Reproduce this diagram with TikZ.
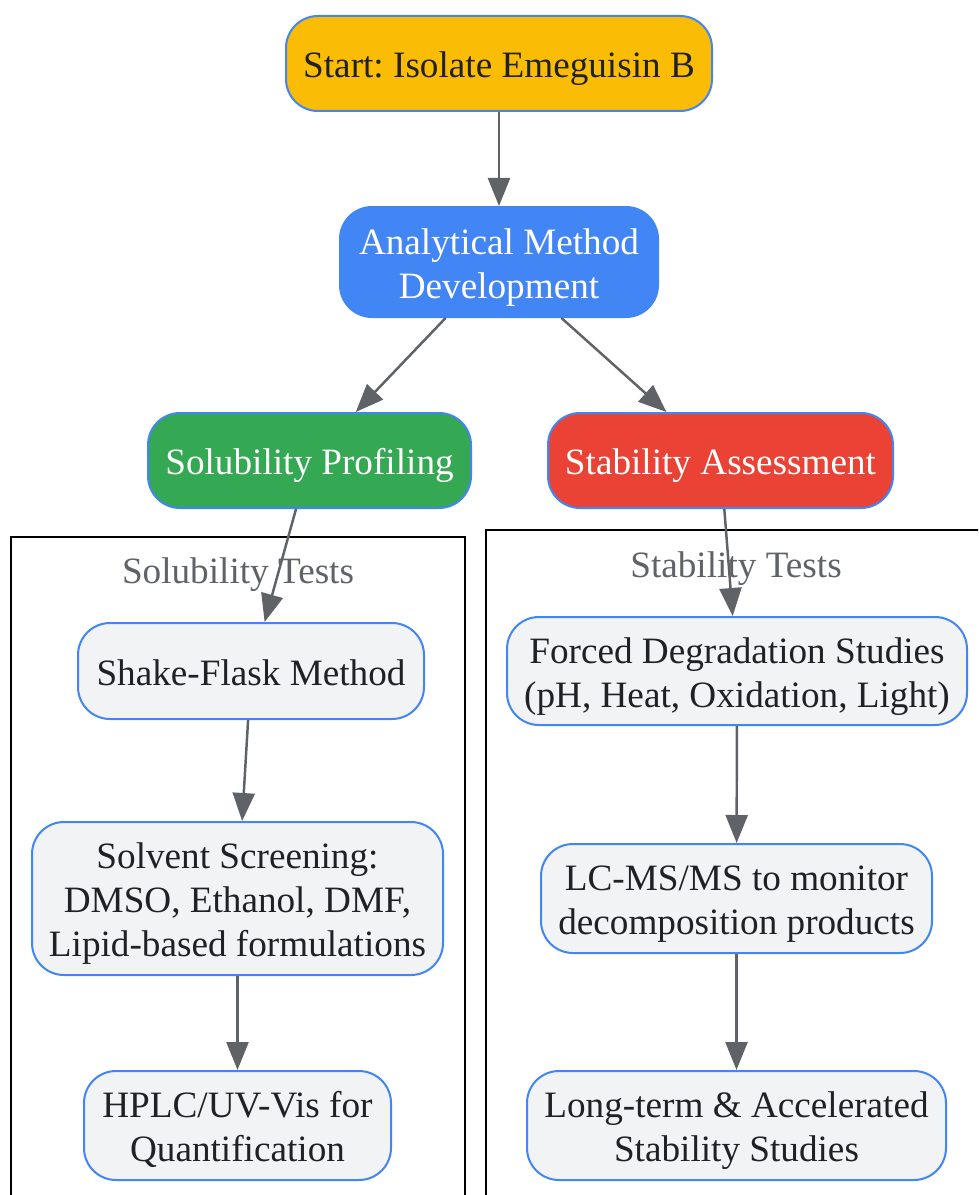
\documentclass[tikz,border=0pt]{standalone}
\usepackage{fontspec}
\setmainfont{Liberation Serif}
\usetikzlibrary{arrows.meta}
\definecolor{cYellow}{HTML}{FBBC05}
\definecolor{cBlue}{HTML}{4285F4}
\definecolor{cGreen}{HTML}{34A853}
\definecolor{cRed}{HTML}{EA4335}
\definecolor{cLight}{HTML}{F1F3F4}
\definecolor{cText}{HTML}{202124}
\definecolor{cArrow}{HTML}{5F6368}
\newcommand{\boxtxt}[1]{\raisebox{-4.1pt}[\height][\depth]{\begin{tabular}{@{}c@{}}#1\end{tabular}}}
\frenchspacing
\begin{document}
\begin{tikzpicture}[x=0.75pt,y=-0.75pt,
  box/.style={draw=cBlue, line width=1.5pt, rounded corners=24pt, align=center,
    font=\fontsize{27.9}{33}\selectfont, inner sep=0pt, text=cText, fill=cLight},
  cluster/.style={draw=black, line width=2pt},
  clabel/.style={font=\fontsize{27.9}{33}\selectfont, text=cArrow},
  edge/.style={draw=cArrow, line width=1.85pt, -{Triangle[length=21pt,width=16.5pt]}}]
\useasboundingbox (0,0) rectangle (978,1195);
\clip (0,0) rectangle (978,1195);
\fill[white] (0,0) rectangle (978,1195);
% clusters
\draw[cluster] (11,537) rectangle (465,1230);
\draw[cluster] (486,530) rectangle (1010,1230);
\node[clabel] (lsol) at (238,575) {Solubility Tests};
\node[clabel] (lsta) at (736,569) {Stability Tests};
% nodes
\node[box, fill=cYellow, minimum width=319.5pt, minimum height=71.25pt] (start) at (499,63.5) {\boxtxt{Start: Isolate Emeguisin B}};
\node[box, fill=cBlue, text=white, minimum width=238.5pt, minimum height=82.5pt] (an) at (499,262) {\boxtxt{Analytical Method\\Development}};
\node[box, fill=cGreen, text=white, minimum width=242.25pt, minimum height=71.25pt] (sp) at (309.5,460.5) {\boxtxt{Solubility Profiling}};
\node[box, fill=cRed, text=white, minimum width=258.75pt, minimum height=71.25pt] (sa) at (720.5,460.5) {\boxtxt{Stability Assessment}};
\node[box, minimum width=259.5pt, minimum height=72pt] (sf) at (251,671) {\boxtxt{Shake-Flask Method}};
\node[box, minimum width=308.25pt, minimum height=114.75pt] (ss) at (237.5,898.5) {\boxtxt{Solvent Screening:\\DMSO, Ethanol, DMF,\\Lipid-based formulations}};
\node[box, minimum width=230.25pt, minimum height=81.75pt] (hp) at (237.5,1125.5) {\boxtxt{HPLC/UV-Vis for\\Quantification}};
\node[box, minimum width=345pt, minimum height=81pt] (fd) at (737,671) {\boxtxt{Forced Degradation Studies\\(pH, Heat, Oxidation, Light)}};
\node[box, minimum width=293.25pt, minimum height=81.75pt] (lc) at (736.5,898.5) {\boxtxt{LC-MS/MS to monitor\\decomposition products}};
\node[box, minimum width=314.25pt, minimum height=81.75pt] (lt) at (736.5,1125.5) {\boxtxt{Long-term \& Accelerated\\Stability Studies}};
% edges
\draw[edge] (start) -- (an);
\draw[edge] (an) -- (sp);
\draw[edge] (an) -- (sa);
\draw[edge] (sp) -- (sf);
\draw[edge] (sa) -- (fd);
\draw[edge] (sf) -- (ss);
\draw[edge] (ss) -- (hp);
\draw[edge] (fd) -- (lc);
\draw[edge] (lc) -- (lt);
\end{tikzpicture}
\end{document}
